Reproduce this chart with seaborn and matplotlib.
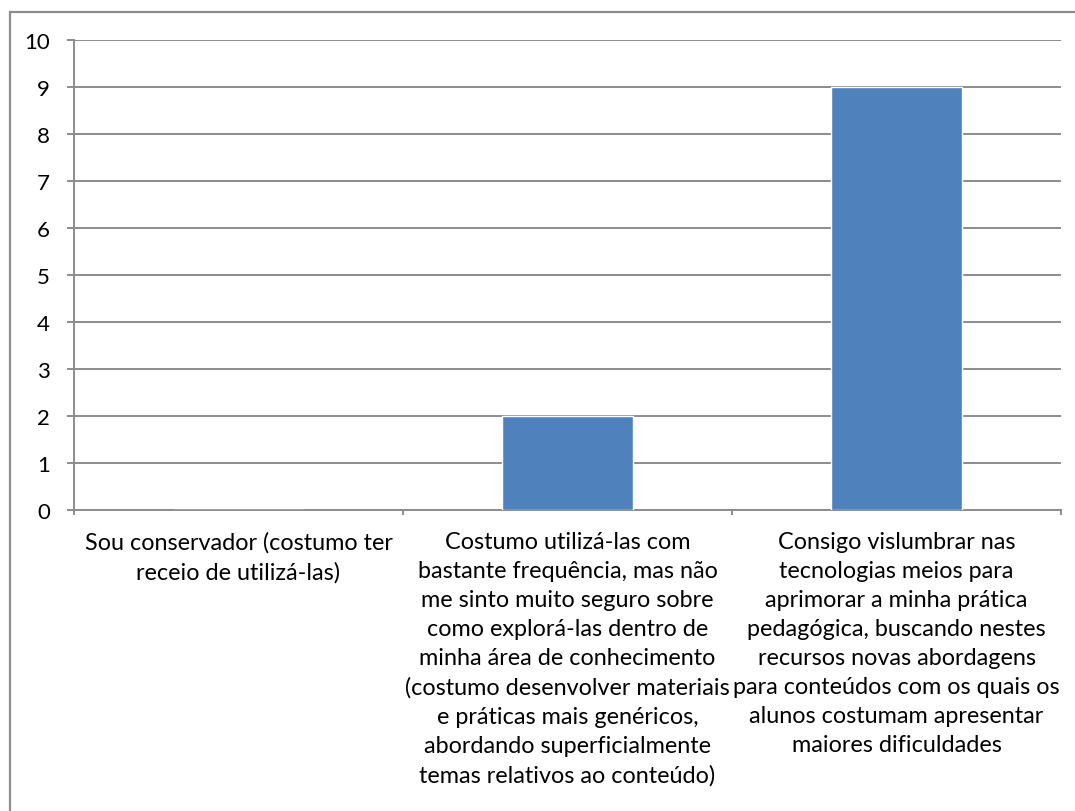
import matplotlib
matplotlib.use("Agg")
import matplotlib.pyplot as plt
import matplotlib.patches as mpatches
import seaborn as sns
import pandas as pd

categories = [
    "Sou conservador (costumo ter\nreceio de utilizá-las)",
    "Costumo utilizá-las com\nbastante frequência, mas não\nme sinto muito seguro sobre\ncomo explorá-las dentro de\nminha área de conhecimento\n(costumo desenvolver materiais\ne práticas mais genéricos,\nabordando superficialmente\ntemas relativos ao conteúdo)",
    "Consigo vislumbrar nas\ntecnologias meios para\naprimorar a minha prática\npedagógica, buscando nestes\nrecursos novas abordagens\npara conteúdos com os quais os\nalunos costumam apresentar\nmaiores dificuldades",
]
values = [0, 2, 9]
y_ticks = list(range(0, 11))

sns.set_theme(style="white")
plt.rcParams["font.family"] = ["Lato", "DejaVu Sans"]

W, H = 1075, 812
PX = 72 / 100  # points per pixel at 100 dpi
fig = plt.figure(figsize=(W / 100, H / 100), dpi=100)
ax = fig.add_axes([74 / W, (H - 511) / H, (1061 - 74) / W, (511 - 41) / H])

df = pd.DataFrame({"categoria": categories, "valor": values})
sns.barplot(data=df, x="categoria", y="valor", color="#4F81BD", width=0.4,
            saturation=1, ax=ax, zorder=3)

grid_color = "#8C8C8C"
ax.set_ylim(0, 10)
ax.set_xlim(-0.5, len(categories) - 0.5)
ax.set_yticks(y_ticks)
ax.yaxis.grid(True, color=grid_color, linewidth=1.4, zorder=0)
ax.set_axisbelow(True)

# category labels on minor ticks, boundary tick marks on major ticks
ax.set_xticks([i - 0.5 for i in range(len(categories) + 1)])
ax.set_xticklabels([])
ax.set_xticks(range(len(categories)), minor=True)
ax.set_xticklabels(categories, minor=True, fontsize=16.8, linespacing=1.47,
                   ha="center", va="top")
ax.tick_params(axis="x", which="major", direction="out", length=5 * PX,
               width=1.4, color=grid_color, bottom=True)
ax.tick_params(axis="x", which="minor", length=0, pad=21 * PX,
               labelcolor="black")
ax.tick_params(axis="y", which="major", direction="out", length=7 * PX,
               width=1.4, color=grid_color, left=True, labelsize=16,
               labelcolor="black", pad=17 * PX)

for side in ["top", "right"]:
    ax.spines[side].set_visible(False)
for side in ["left", "bottom"]:
    ax.spines[side].set_color(grid_color)
    ax.spines[side].set_linewidth(1.4)
ax.set_xlabel("")
ax.set_ylabel("")

# chart area border
fig.patches.append(mpatches.Rectangle((10 / W, -0.1), 1.2, (H - 13) / H + 0.1,
                                      transform=fig.transFigure, fill=False,
                                      edgecolor=grid_color, linewidth=1.6))

fig.savefig("out.png", dpi=100, facecolor="white")
